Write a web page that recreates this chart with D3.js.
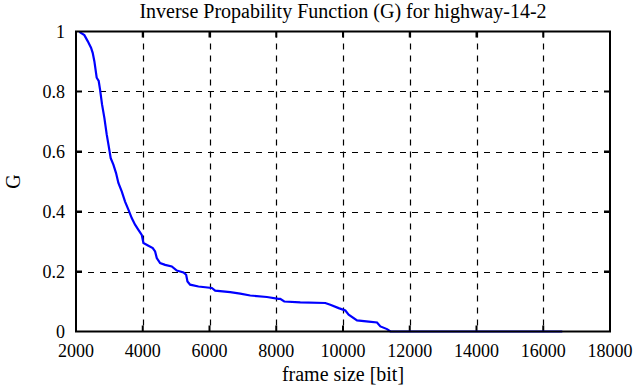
<!DOCTYPE html>
<html>
<head>
<meta charset="utf-8">
<script src="https://cdn.jsdelivr.net/npm/d3@7"></script>
<style>
  body { margin: 0; background: #fff; }
  text { font-family: "Liberation Serif", "DejaVu Serif", serif; fill: #000; }
</style>
</head>
<body>
<svg id="chart" width="639" height="387"></svg>
<script>
// values
const frameSize = [2100, 2250, 2350, 2450, 2500, 2550, 2620, 2680, 2720, 2780, 2850, 2920, 2980,
  3040, 3120, 3200, 3270, 3370, 3470, 3570, 3670, 3770, 3870, 3970, 4020, 4170, 4300, 4370,
  4420, 4520, 4670, 4870, 5020, 5220, 5300, 5340, 5420, 5670, 6070, 6170, 6620, 6920, 7220,
  7720, 8070, 8120, 8240, 8720, 9470, 9620, 9870, 10070, 10170, 10420, 10770, 11020, 11120,
  11320, 11420, 16570]
const gValue = [0.999, 0.988, 0.968, 0.946, 0.929, 0.901, 0.846, 0.835, 0.807, 0.757, 0.712, 0.657, 0.618,
  0.578, 0.556, 0.528, 0.495, 0.467, 0.433, 0.406, 0.378, 0.356, 0.339, 0.322, 0.295, 0.286, 0.278, 0.267,
  0.245, 0.228, 0.222, 0.217, 0.203, 0.197, 0.189, 0.167, 0.156, 0.15, 0.145, 0.136, 0.131, 0.126, 0.12,
  0.115, 0.109, 0.109, 0.1, 0.097, 0.095, 0.089, 0.078, 0.07, 0.056, 0.037, 0.033, 0.03, 0.017,
  0.008, 0, 0]
const xTicks = [2000, 4000, 6000, 8000, 10000, 12000, 14000, 16000, 18000]
const yTicks = [0, 0.2, 0.4, 0.6, 0.8, 1]

const svg = d3.select('#chart')
const pLeft = 76, pRight = 610, pTop = 31.5, pBottom = 331.5

let x = d3.scaleLinear().domain([2000, 18000]).range([pLeft, pRight])
let y = d3.scaleLinear().domain([0, 1]).range([pBottom, pTop])

//Dashed grid
svg.selectAll('.vgrid')
  .data(xTicks.slice(1, -1))
  .enter()
  .append('line')
  .attr('x1', d => Math.round(x(d)) + 0.5)
  .attr('x2', d => Math.round(x(d)) + 0.5)
  .attr('y1', pTop)
  .attr('y2', pBottom)
  .attr('stroke', '#000')
  .attr('stroke-width', 1.2)
  .attr('stroke-dasharray', '6,6')

svg.selectAll('.hgrid')
  .data(yTicks.slice(1, -1))
  .enter()
  .append('line')
  .attr('x1', pLeft)
  .attr('x2', pRight)
  .attr('y1', d => Math.round(y(d)) + 0.5)
  .attr('y2', d => Math.round(y(d)) + 0.5)
  .attr('stroke', '#000')
  .attr('stroke-width', 1.2)
  .attr('stroke-dasharray', '6,6')

//Inner ticks on all four sides
const tickLen = 6
let tg = svg.append('g').attr('stroke', '#000').attr('stroke-width', 2)
xTicks.slice(1, -1).forEach(function(d){
  tg.append('line').attr('x1', x(d)).attr('x2', x(d)).attr('y1', pBottom).attr('y2', pBottom - tickLen)
  tg.append('line').attr('x1', x(d)).attr('x2', x(d)).attr('y1', pTop).attr('y2', pTop + tickLen)
})
yTicks.slice(1, -1).forEach(function(d){
  tg.append('line').attr('x1', pLeft).attr('x2', pLeft + tickLen).attr('y1', y(d)).attr('y2', y(d))
  tg.append('line').attr('x1', pRight).attr('x2', pRight - tickLen).attr('y1', y(d)).attr('y2', y(d))
})

//Data line
let line = d3.line()
  .x((d, i) => x(frameSize[i]))
  .y(d => y(d))

svg.append('path')
  .datum(gValue)
  .attr('d', line)
  .attr('fill', 'none')
  .attr('stroke', '#0000ff')
  .attr('stroke-width', 2.2)

//Frame
svg.append('rect')
  .attr('x', pLeft)
  .attr('y', pTop)
  .attr('width', pRight - pLeft)
  .attr('height', pBottom - pTop)
  .attr('fill', 'none')
  .attr('stroke', '#000')
  .attr('stroke-width', 2)

//Tick labels
svg.selectAll('.xlabel')
  .data(xTicks)
  .enter()
  .append('text')
  .attr('x', d => x(d))
  .attr('y', pBottom + 25)
  .attr('text-anchor', 'middle')
  .attr('font-size', 18)
  .text(d => d)

svg.selectAll('.ylabel')
  .data(yTicks)
  .enter()
  .append('text')
  .attr('x', pLeft - 11)
  .attr('y', d => y(d) + 6.5)
  .attr('text-anchor', 'end')
  .attr('font-size', 18)
  .text(d => d)

//Titles
svg.append('text')
  .attr('x', 343)
  .attr('y', 17.5)
  .attr('text-anchor', 'middle')
  .attr('font-size', 20)
  .text('Inverse Propability Function (G) for highway-14-2')

svg.append('text')
  .attr('x', 343)
  .attr('y', 381)
  .attr('text-anchor', 'middle')
  .attr('font-size', 20)
  .text('frame size [bit]')

svg.append('text')
  .attr('transform', 'translate(20,' + (pTop + pBottom) / 2 + ') rotate(-90)')
  .attr('text-anchor', 'middle')
  .attr('font-size', 20)
  .text('G')
</script>
</body>
</html>
